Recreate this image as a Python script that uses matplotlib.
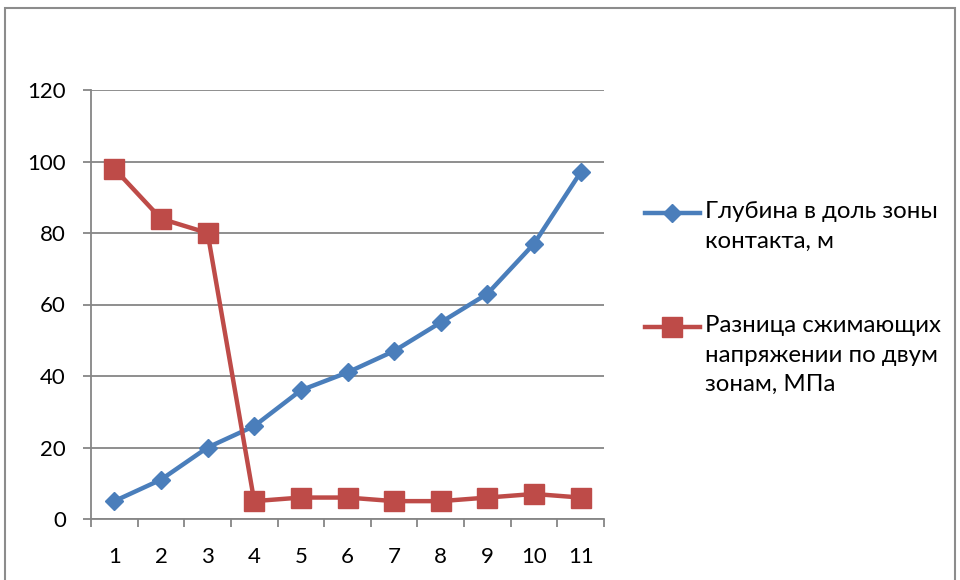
import numpy as np
import matplotlib.pyplot as plt
from matplotlib.lines import Line2D
from matplotlib.patches import Rectangle

plt.rcParams['font.family'] = ['Lato', 'DejaVu Sans']

# Номера точек по профилю
points = np.arange(1, 12)
depth = [5, 11, 20, 26, 36, 41, 47, 55, 63, 77, 97]
stress_diff = [98, 84, 80, 5, 6, 6, 5, 5, 6, 7, 6]

depth_label = "Глубина в доль зоны\nконтакта, м"
stress_label = "Разница сжимающих\nнапряжении по двум\nзонам, МПа"

blue = "#4A7EBB"
red = "#BE4B48"
grid_col = "#868686"

W, H = 960, 580
fig = plt.figure(figsize=(W / 100, H / 100), dpi=100)

def fx(px):
    return px / W

def fy(py):
    return 1 - py / H

# рамка вокруг диаграммы
fig.patches.append(Rectangle((fx(5), fy(600)), fx(950), (600 - 8) / H,
                             transform=fig.transFigure, fill=False,
                             edgecolor="#8c8c8c", linewidth=1.5))

ax = fig.add_axes([fx(91), fy(519), fx(604 - 91), (519 - 90) / H])

ax.plot(points, depth, color=blue, lw=3.2, marker="D", ms=9,
        markeredgecolor=blue, zorder=3)
ax.plot(points, stress_diff, color=red, lw=3.2, marker="s", ms=14,
        markeredgecolor=red, zorder=3)

ax.set_xlim(0.5, 11.5)
ax.set_ylim(0, 120)
ax.set_yticks(range(0, 121, 20))
ax.yaxis.grid(True, color=grid_col, lw=1.3)
ax.set_axisbelow(True)

# категории: подписи по центру, засечки на границах
ax.set_xticks(points)
ax.set_xticklabels([str(p) for p in points])
ax.set_xticks(np.arange(0.5, 12, 1), minor=True)
ax.tick_params(axis="x", which="major", length=0, pad=20, labelsize=16)
ax.tick_params(axis="x", which="minor", length=6, color=grid_col, width=1.3)
ax.tick_params(axis="y", length=6, color=grid_col, width=1.3, pad=12,
               labelsize=16)

for side in ("top", "right"):
    ax.spines[side].set_visible(False)
for side in ("left", "bottom"):
    ax.spines[side].set_color(grid_col)
    ax.spines[side].set_linewidth(1.3)

# легенда справа
entries = [(blue, "D", 9, depth_label, 213),
           (red, "s", 14, stress_label, 327)]
for col, mk, ms, label, py in entries:
    fig.add_artist(Line2D([fx(645), fx(700)], [fy(py), fy(py)], color=col,
                          lw=3.2, transform=fig.transFigure))
    fig.add_artist(Line2D([fx(672)], [fy(py)], color=col, marker=mk, ms=ms,
                          transform=fig.transFigure))
    fig.text(fx(705), fy(py - 12), label, ha="left", va="top",
             fontsize=17.3, linespacing=1.5)

fig.savefig("out.png", dpi=100)
